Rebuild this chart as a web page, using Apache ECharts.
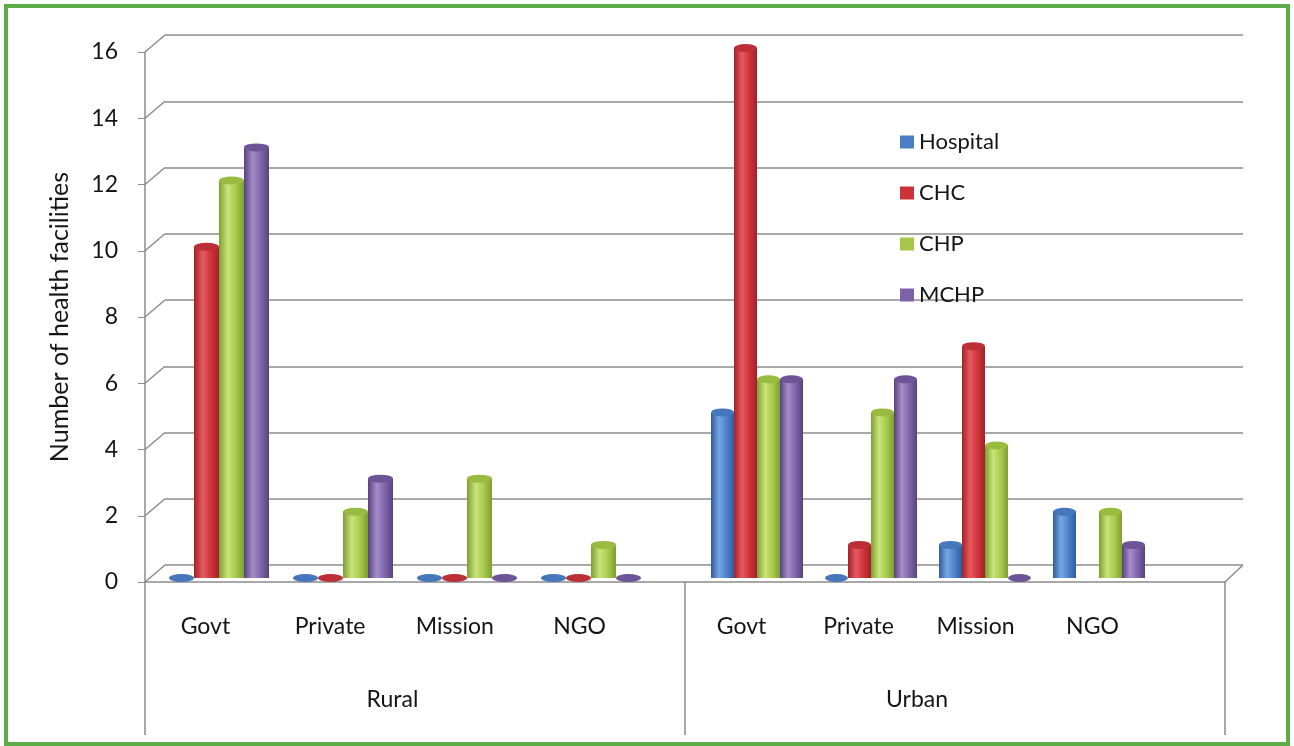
<!DOCTYPE html>
<html>
<head>
<meta charset="utf-8">
<script src="https://cdn.jsdelivr.net/npm/echarts@6/dist/echarts.min.js"></script>
<style>
html, body { margin: 0; padding: 0; background: #fff; }
#frame { position: absolute; left: 4px; top: 4px; width: 1278px; height: 734px; border: 4px solid #5cad48; }
#chart { position: absolute; left: 0; top: 0; width: 1294px; height: 746px; }
</style>
</head>
<body>
<div id="chart"></div>
<div id="frame"></div>
<script>
// categories
const facilityTypes = ["Govt", "Private", "Mission", "NGO"];
const areas = ["Rural", "Urban"];
const yTicks = [0, 2, 4, 6, 8, 10, 12, 14, 16];

// values: first 4 = Rural, last 4 = Urban (null = no bar)
const hospital = [0, 0, 0, 0, 5, 0, 1, 2];
const chc      = [10, 0, 0, 0, 16, 1, 7, null];
const chp      = [12, 2, 3, 1, 6, 5, 4, 2];
const mchp     = [13, 3, 0, 0, 6, 6, 0, 1];

const seriesInfo = [
    { name: "Hospital", data: hospital, flat: "#4a7fc8", dark: "#2f5d9c", light: "#78a6e4", cap: "#4676bb" },
    { name: "CHC",      data: chc,      flat: "#cc3238", dark: "#a12228", light: "#e65a5f", cap: "#bd2f37" },
    { name: "CHP",      data: chp,      flat: "#a6c84a", dark: "#7e9e30", light: "#c9e47a", cap: "#99bb40" },
    { name: "MCHP",     data: mchp,     flat: "#7c62a6", dark: "#57427f", light: "#a48dc9", cap: "#6d5496" }
];

const depthX = 20;   // 3d wall offset
const depthY = 17;
const lineGray = "#8c8c8c";
const txt = "#151515";
const font = "Lato, 'Open Sans', sans-serif";

// per area: label grid, bar grid, bar width
const areaLayout = [
    { labelGrid: { left: 143, right: 1294 - 642 }, barGrid: { left: 157, right: 1294 - 653 }, barW: 25 },
    { labelGrid: { left: 683, right: 1294 - 1151 }, barGrid: { left: 700, right: 1294 - 1156 }, barW: 23 }
];

function cylinder(s) {
    return {
        type: "linear", x: 0, y: 0, x2: 1, y2: 0,
        colorStops: [
            { offset: 0, color: s.dark },
            { offset: 0.35, color: s.light },
            { offset: 0.7, color: s.flat },
            { offset: 1, color: s.dark }
        ]
    };
}

let grids = [
    { left: 145, right: 69, top: 52, bottom: 164 },                                 // front frame
    { left: 145 + depthX, right: 69 - 18, top: 52 - depthY, bottom: 164 + depthY }  // back wall
];
let xAxes = [
    {
        type: "category",
        gridIndex: 0,
        data: areas,
        axisLine: { show: true, lineStyle: { color: lineGray, width: 1.5 } },
        axisTick: { show: true, length: 153, lineStyle: { color: lineGray, width: 1.5 } },
        axisLabel: { show: false }
    },
    { type: "category", gridIndex: 1, data: facilityTypes, show: false }
];
let yAxes = [
    {
        type: "value",
        gridIndex: 0,
        min: 0,
        max: 16,
        interval: 2,
        name: "Number of health facilities",
        nameLocation: "middle",
        nameGap: 73,
        nameTextStyle: { fontSize: 25, color: txt },
        axisLine: { show: true, lineStyle: { color: lineGray, width: 1.5 } },
        axisTick: { show: true, length: 7, lineStyle: { color: lineGray } },
        axisLabel: { margin: 27, fontSize: 23, color: txt },
        splitLine: { show: false }
    },
    {
        type: "value",
        gridIndex: 1,
        min: 0,
        max: 16,
        interval: 2,
        axisLine: { show: false },
        axisTick: { show: false },
        axisLabel: { show: false },
        splitLine: { show: true, lineStyle: { color: lineGray, width: 1.5 } }
    }
];
let series = [];

areas.forEach((area, a) => {
    const L = areaLayout[a];
    const lg = grids.length;
    grids.push(Object.assign({ top: 52, bottom: 164 }, L.labelGrid));
    // bars sit on the floor, a little behind the front edge
    grids.push(Object.assign({ top: 48, bottom: 168 }, L.barGrid));
    const bg = lg + 1;

    xAxes.push({
        type: "category", gridIndex: lg, data: facilityTypes,
        axisLine: { show: false }, axisTick: { show: false },
        axisLabel: { margin: 33, fontSize: 23, color: txt, interval: 0 }
    });
    xAxes.push({
        type: "category", gridIndex: lg, position: "bottom", data: [area],
        axisLine: { show: false }, axisTick: { show: false },
        axisLabel: { margin: 106, fontSize: 23, color: txt }
    });
    const barX = xAxes.length;
    xAxes.push({ type: "category", gridIndex: bg, data: facilityTypes, show: false });
    yAxes.push({ type: "value", gridIndex: lg, min: 0, max: 16, interval: 2, show: false });
    const barY = yAxes.length;
    yAxes.push({ type: "value", gridIndex: bg, min: 0, max: 16, interval: 2, show: false });

    seriesInfo.forEach(s => {
        series.push({
            name: s.name, type: "bar",
            xAxisIndex: barX, yAxisIndex: barY,
            barWidth: L.barW, barGap: "0%",
            data: s.data.slice(a * 4, a * 4 + 4),
            itemStyle: { color: cylinder(s) },
            z: 3
        });
    });
    seriesInfo.forEach(s => {
        series.push({
            name: s.name, type: "pictorialBar",
            xAxisIndex: barX, yAxisIndex: barY,
            barWidth: L.barW, barGap: "0%",
            symbol: "circle",
            symbolSize: [L.barW, 8],
            symbolPosition: "end",
            symbolOffset: [0, "-50%"],
            data: s.data.slice(a * 4, a * 4 + 4),
            itemStyle: { color: s.cap },
            z: 4,
            legendHoverLink: false
        });
    });
});

// slanted wall edges joining front ticks to back gridlines
series.push({
    type: "custom",
    xAxisIndex: 0,
    yAxisIndex: 0,
    silent: true,
    clip: false,
    data: yTicks.map(v => [0, v]),
    renderItem: function(params, api) {
        const cs = params.coordSys;
        const y = api.coord([0, api.value(1)])[1];
        const st = { stroke: lineGray, lineWidth: 1.5 };
        const kids = [{ type: "line", shape: { x1: cs.x, y1: y, x2: cs.x + depthX, y2: y - depthY }, style: st }];
        if (api.value(1) === 0) {
            kids.push({ type: "line", shape: { x1: cs.x + cs.width, y1: y, x2: cs.x + cs.width + 18, y2: y - depthY }, style: st });
        }
        return { type: "group", children: kids };
    },
    z: 1
});

const chart = echarts.init(document.getElementById("chart"));
chart.setOption({
    animation: false,
    textStyle: { fontFamily: font },
    legend: {
        data: seriesInfo.map(s => ({ name: s.name, itemStyle: { color: s.flat } })),
        orient: "vertical",
        left: 900,
        top: 131,
        padding: 0,
        itemWidth: 14,
        itemHeight: 13,
        itemGap: 29,
        icon: "rect",
        textStyle: { fontSize: 22, color: txt, fontFamily: font }
    },
    grid: grids,
    xAxis: xAxes,
    yAxis: yAxes,
    series: series
});
</script>
</body>
</html>
